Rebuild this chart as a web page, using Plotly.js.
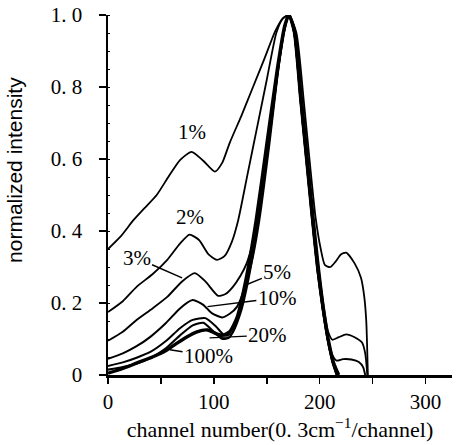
<!DOCTYPE html>
<html>
<head>
<meta charset="utf-8">
<script src="https://cdn.plot.ly/plotly-3.0.1.min.js"></script>
<style>html,body{margin:0;padding:0;background:#fff;}#chart{width:460px;height:445px;}</style>
</head>
<body>
<div id="chart"></div>
<script>
// channel numbers and normalized intensities
const ch1 = [0,12,24,35,46,57,68,79,90,101,108,115,126,137,148,158,165,171,178,185,191,196,201,205,210,215,220,225,233,239,242,244,245.5];
const y1  = [0.35,0.385,0.43,0.465,0.50,0.55,0.597,0.62,0.595,0.565,0.59,0.645,0.72,0.80,0.88,0.955,0.99,1.0,0.95,0.76,0.58,0.44,0.35,0.305,0.30,0.315,0.335,0.34,0.31,0.27,0.22,0.15,0.0];

const ch2 = [0,14,27,42,56,68,77,86,95,103,110,117,123,132,141,150,159,165,171,177,183,189,194,199,204,208,212,218,225,233,240,243,245];
const y2  = [0.175,0.205,0.245,0.28,0.32,0.365,0.39,0.375,0.335,0.32,0.33,0.37,0.43,0.56,0.69,0.82,0.95,0.99,1.0,0.955,0.78,0.60,0.45,0.31,0.19,0.12,0.098,0.105,0.113,0.105,0.09,0.06,0.0];

const ch3 = [0,14,27,42,56,70,82,92,104,111,118,125,131,140,150,160,166,171,176,182,188,193,198,203,208,212,216,222,230,237,241,243];
const y3  = [0.095,0.12,0.153,0.185,0.217,0.26,0.283,0.26,0.22,0.225,0.245,0.275,0.31,0.40,0.60,0.83,0.95,1.0,0.955,0.78,0.60,0.45,0.31,0.19,0.10,0.055,0.04,0.044,0.043,0.036,0.022,0.0];

const ch5 = [0,14,27,40,55,68,80,90,98,108,115,122,130,137,143,152,161,167,171,176,182,188,193,198,203,208,212,216];
const y5  = [0.045,0.06,0.08,0.106,0.145,0.185,0.208,0.195,0.172,0.16,0.17,0.19,0.25,0.33,0.43,0.63,0.85,0.96,1.0,0.95,0.77,0.59,0.44,0.30,0.19,0.10,0.04,0.0];

const ch10 = [0,14,27,40,55,68,80,92,102,110,117,125,133,142,152,161,167,171,176,182,188,193,198,203,208,212,216];
const y10  = [0.025,0.035,0.048,0.064,0.095,0.13,0.153,0.158,0.135,0.11,0.115,0.17,0.27,0.43,0.65,0.86,0.97,1.0,0.95,0.76,0.58,0.43,0.29,0.18,0.09,0.035,0.0];

const ch20 = [0,14,27,40,55,68,80,90,100,108,115,122,130,140,150,160,167,171,176,182,188,193,198,203,208,213,217];
const y20  = [0.015,0.022,0.032,0.047,0.075,0.11,0.138,0.145,0.12,0.10,0.105,0.15,0.24,0.41,0.62,0.84,0.97,1.0,0.95,0.76,0.58,0.43,0.29,0.18,0.09,0.03,0.0];

const ch100 = [0,14,27,42,56,66,74,84,94,102,108,115,122,130,140,150,160,167,171,176,182,188,193,198,203,208,213,218];
const y100  = [0.005,0.018,0.033,0.05,0.07,0.09,0.105,0.12,0.125,0.115,0.11,0.12,0.16,0.26,0.43,0.64,0.85,0.97,1.0,0.955,0.77,0.59,0.44,0.30,0.19,0.10,0.035,0.0];

const seriesNames = ["1%","2%","3%","5%","10%","20%","100%"];

// label positions (data coords) and leader targets
const labelText = ["1%","2%","3%","5%","10%","20%","100%"];
const labelX    = [79, 77, 27, 160, 160, 151, 95];
const labelY    = [0.675, 0.44, 0.325, 0.286, 0.214, 0.111, 0.053];
const leaderX   = [null, null, 70, 130, 94, 96, 58.5];
const leaderY   = [null, null, 0.27, 0.25, 0.19, 0.103, 0.07];

const yTickVals = [0, 0.2, 0.4, 0.6, 0.8, 1.0];
const yTickText = ["0", "0. 2", "0. 4", "0. 6", "0. 8", "1. 0"];
const xTickVals = [0, 100, 200, 300];
const xTickText = ["0", "100", "200", "300"];

const xs = [ch1, ch2, ch3, ch5, ch10, ch20, ch100];
const ys = [y1, y2, y3, y5, y10, y20, y100];
const widths = [1.8, 1.8, 1.9, 2.0, 2.0, 2.1, 3.4];

const traces = xs.map((x, i) => ({
  x: x, y: ys[i], type: 'scatter', mode: 'lines', name: seriesNames[i],
  line: {color: '#000', width: widths[i], shape: 'spline', smoothing: 0.6},
  hoverinfo: 'skip'
}));

const serif = "Liberation Serif, DejaVu Serif, serif";

const annotations = labelText.map((t, i) => {
  if (leaderX[i] === null) {
    return {x: labelX[i], y: labelY[i], xref: 'x', yref: 'y', text: t, showarrow: false,
            font: {family: serif, size: 21, color: '#000'}};
  }
  return {x: leaderX[i], y: leaderY[i], xref: 'x', yref: 'y', ax: labelX[i], ay: labelY[i],
          axref: 'x', ayref: 'y', text: t, showarrow: true, arrowhead: 0, arrowwidth: 1.4,
          arrowcolor: '#000', standoff: 0, startstandoff: 0,
          font: {family: serif, size: 21, color: '#000'}};
});

annotations.push({
  xref: 'paper', yref: 'paper', x: -0.27, y: 0.57, xanchor: 'center', yanchor: 'middle',
  text: 'normalized intensity', textangle: -90, showarrow: false,
  font: {family: 'Liberation Sans, Arial, sans-serif', size: 21, color: '#000'}
});

const layout = {
  width: 460, height: 445,
  margin: {l: 108, r: 8, t: 15, b: 70},
  paper_bgcolor: '#fff', plot_bgcolor: '#fff',
  showlegend: false,
  xaxis: {
    range: [0, 325], showgrid: false, zeroline: false,
    showline: true, linecolor: '#000', linewidth: 3,
    tickmode: 'array', tickvals: xTickVals, ticktext: xTickText,
    ticks: 'outside', ticklen: 6, tickwidth: 1.5, tickcolor: '#000',
    minor: {dtick: 50, ticks: 'outside', ticklen: 6, tickwidth: 1.5, tickcolor: '#000'},
    tickfont: {family: serif, size: 21, color: '#000'},
    ticklabelstandoff: 0,
    title: {text: 'channel number(0. 3cm<sup>−1</sup>/channel)', font: {family: serif, size: 22, color: '#000'}, standoff: 6}
  },
  yaxis: {
    range: [0, 1.0], showgrid: false, zeroline: false,
    showline: true, linecolor: '#000', linewidth: 2.5,
    tickmode: 'array', tickvals: yTickVals, ticktext: yTickText,
    ticks: 'outside', ticklen: 7, tickwidth: 1.5, tickcolor: '#000',
    minor: {dtick: 0.05, ticks: 'inside', ticklen: 2, tickwidth: 1, tickcolor: '#000'},
    tickfont: {family: serif, size: 21, color: '#000'},
    ticklabelstandoff: 12
  },
  annotations: annotations
};

Plotly.newPlot('chart', traces, layout, {displayModeBar: false, staticPlot: true});
</script>
</body>
</html>
